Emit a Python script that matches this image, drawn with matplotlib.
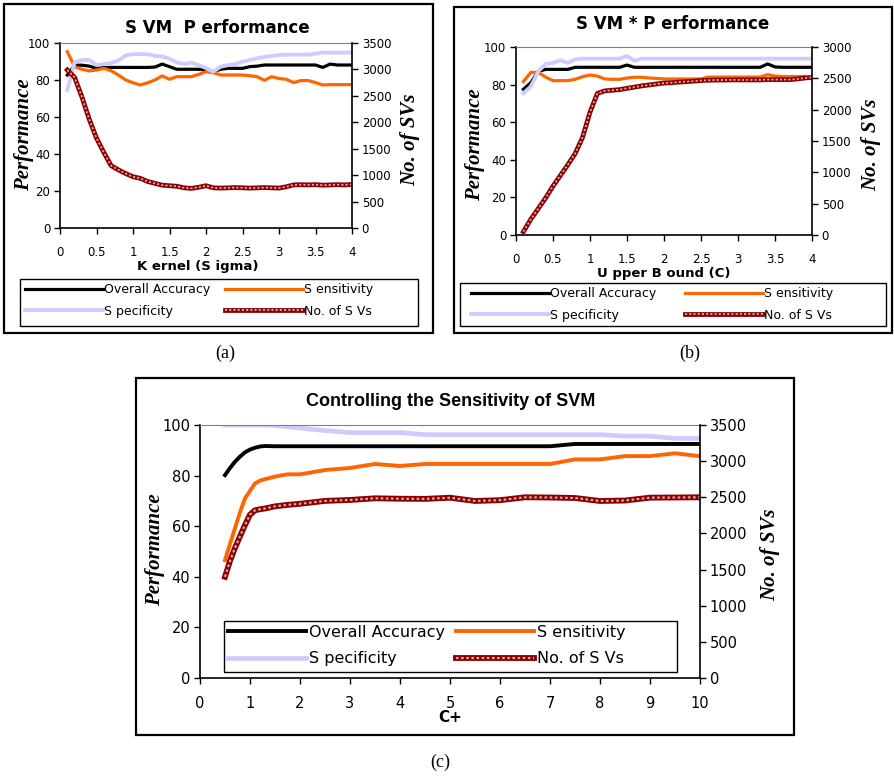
import matplotlib
matplotlib.use('Agg')
import matplotlib.pyplot as plt
from matplotlib.patches import Rectangle

# ---------------- DATOS ----------------

# (a) Kernel (Sigma)
sigma = [0.1, 0.2, 0.3, 0.4, 0.5, 0.6, 0.7, 0.8, 0.9, 1.0,
         1.1, 1.2, 1.3, 1.4, 1.5, 1.6, 1.7, 1.8, 1.9, 2.0,
         2.1, 2.2, 2.3, 2.4, 2.5, 2.6, 2.7, 2.8, 2.9, 3.0,
         3.1, 3.2, 3.3, 3.4, 3.5, 3.6, 3.7, 3.8, 3.9, 4.0]
acc_a = [82.7, 88.0, 88.0, 87.5, 86.3, 86.8, 86.8, 86.8, 86.8, 86.8,
         86.8, 86.8, 87.0, 88.6, 87.2, 85.8, 85.8, 85.8, 85.8, 85.5,
         84.5, 85.8, 86.3, 86.3, 86.3, 87.2, 87.5, 88.1, 88.1, 88.1,
         88.1, 88.1, 88.1, 88.1, 88.1, 86.8, 88.6, 88.1, 88.1, 88.1]
sens_a = [95.3, 87.2, 85.8, 84.9, 85.4, 86.3, 85.0, 82.7, 80.0, 78.5,
          77.3, 78.5, 80.0, 82.2, 80.4, 81.8, 81.8, 81.8, 83.0, 84.5,
          84.0, 82.7, 82.7, 82.7, 82.7, 82.3, 81.8, 79.8, 81.8, 80.8,
          80.4, 78.6, 79.7, 79.7, 78.6, 77.3, 77.5, 77.5, 77.5, 77.5]
spec_a = [74.6, 89.5, 90.8, 90.8, 88.1, 88.6, 89.2, 90.5, 93.3, 94.0,
          94.0, 94.0, 93.0, 92.7, 91.5, 89.5, 88.6, 89.4, 88.0, 86.5,
          84.5, 87.2, 88.0, 88.6, 89.9, 90.8, 91.7, 92.5, 93.0, 93.5,
          93.7, 93.7, 93.7, 93.7, 94.2, 94.8, 94.8, 94.8, 94.8, 94.8]
svs_a = [2990, 2850, 2480, 2060, 1700, 1430, 1180, 1100, 1030, 970,
         940, 880, 845, 810, 800, 790, 760, 750, 770, 800,
         760, 755, 760, 765, 760, 755, 760, 765, 760, 755,
         780, 815, 820, 815, 820, 810, 815, 820, 815, 825]

# (b) Upper Bound (C)
cota = [0.1, 0.2, 0.3, 0.4, 0.5, 0.6, 0.7, 0.8, 0.9, 1.0,
        1.1, 1.2, 1.3, 1.4, 1.5, 1.6, 1.7, 1.8, 1.9, 2.0,
        2.1, 2.2, 2.3, 2.4, 2.5, 2.6, 2.7, 2.8, 2.9, 3.0,
        3.1, 3.2, 3.3, 3.4, 3.5, 3.6, 3.7, 3.8, 3.9, 4.0]
acc_b = [77.5, 81.0, 87.0, 88.1, 88.1, 88.1, 88.1, 89.2, 89.2, 89.2,
         89.2, 89.2, 89.2, 89.2, 90.4, 89.2, 89.2, 89.2, 89.2, 89.2,
         89.2, 89.2, 89.2, 89.2, 89.2, 89.2, 89.2, 89.2, 89.2, 89.2,
         89.2, 89.2, 89.2, 91.0, 89.4, 89.2, 89.2, 89.2, 89.2, 89.2]
sens_b = [81.6, 86.5, 86.5, 84.0, 82.1, 82.1, 82.1, 82.8, 84.2, 85.1,
          84.5, 83.0, 82.8, 82.8, 83.5, 83.9, 83.9, 83.5, 83.3, 83.0,
          83.0, 83.0, 83.0, 83.0, 83.0, 84.0, 84.0, 84.0, 84.0, 84.0,
          84.0, 84.0, 84.0, 85.3, 84.5, 84.3, 84.3, 84.3, 84.3, 83.0]
spec_b = [75.4, 79.0, 87.0, 91.0, 91.5, 93.0, 91.5, 93.4, 93.8, 93.8,
          93.8, 93.8, 93.8, 93.8, 95.2, 92.7, 93.8, 93.8, 93.8, 93.8,
          93.8, 93.8, 93.8, 93.8, 93.8, 93.8, 93.8, 93.8, 93.8, 93.8,
          93.8, 93.8, 93.8, 93.8, 93.8, 93.8, 93.8, 93.8, 93.8, 93.8]
svs_b = [53, 250, 420, 590, 780, 950, 1120, 1300, 1560, 1960,
         2260, 2300, 2310, 2320, 2340, 2360, 2380, 2395, 2410, 2425,
         2430, 2440, 2447, 2455, 2465, 2470, 2473, 2473, 2475, 2475,
         2475, 2475, 2475, 2480, 2480, 2480, 2480, 2490, 2505, 2515]

# (c) C+
cmas = [0.5, 0.6, 0.7, 0.8, 0.9, 1.0, 1.1, 1.2, 1.3, 1.5, 1.75, 2.0,
        2.5, 3.0, 3.5, 4.0, 4.5, 5.0, 5.5, 6.0, 6.5, 7.0, 7.5, 8.0,
        8.5, 9.0, 9.5, 10.0]
acc_c = [80.2, 83.0, 85.5, 87.5, 89.2, 90.3, 91.0, 91.5, 91.7, 91.6, 91.6, 91.6,
         91.6, 91.6, 91.6, 91.6, 91.6, 91.6, 91.6, 91.6, 91.6, 91.6, 92.5, 92.5,
         92.5, 92.5, 92.5, 92.5]
sens_c = [46.6, 53.0, 59.2, 65.5, 71.0, 74.0, 76.9, 78.0, 78.6, 79.6, 80.5, 80.5,
          82.2, 83.0, 84.6, 83.8, 84.6, 84.6, 84.6, 84.6, 84.6, 84.6, 86.4, 86.4,
          87.7, 87.7, 88.8, 87.7]
spec_c = [100, 100, 100, 100, 100, 100, 100, 100, 100, 99.8, 99.3, 98.8,
          97.8, 97.0, 97.0, 97.0, 96.2, 96.2, 96.2, 96.2, 96.2, 96.2, 96.2, 96.2,
          95.6, 95.6, 94.7, 94.7]
svs_c = [1400, 1620, 1800, 1960, 2117, 2260, 2320, 2335, 2345, 2375, 2395, 2410,
         2450, 2463, 2486, 2480, 2478, 2494, 2449, 2460, 2500, 2497, 2490, 2449,
         2455, 2495, 2497, 2500]

# ---------------- FIGURA ----------------

W, H = 894, 777
fig = plt.figure(figsize=(W / 100, H / 100), dpi=100)

NARANJA = '#FF6600'
LILA = '#CCCCFF'
GRANATE = '#8B0000'
SERIF = 'Liberation Serif'


def fx(x):
    return x / W


def fy(y):
    return 1 - y / H


def ejes(left, top, right, bottom):
    return fig.add_axes([fx(left), fy(bottom), (right - left) / W, (bottom - top) / H])


def caja(left, top, right, bottom, lw):
    fig.patches.append(Rectangle((fx(left), fy(bottom)), (right - left) / W,
                                 (bottom - top) / H, fill=False, lw=lw,
                                 edgecolor='black', transform=fig.transFigure))


def panel(ax, x, acc, sens, spec, svs, xmax, xticks, xlabels, svmax, fs, lw):
    l_acc, = ax.plot(x, acc, color='black', lw=lw)
    l_sens, = ax.plot(x, sens, color=NARANJA, lw=lw)
    l_spec, = ax.plot(x, spec, color=LILA, lw=lw * 1.2)
    ax.set_xlim(0, xmax)
    ax.set_ylim(0, 100)
    ax.set_xticks(xticks)
    ax.set_xticklabels(xlabels)
    ax.set_yticks([0, 20, 40, 60, 80, 100])
    ax.tick_params(axis='x', labelsize=fs, length=4, width=1, pad=9)
    ax.tick_params(axis='y', labelsize=fs, length=4, width=1, pad=3)
    ax.spines['top'].set_color('#808080')
    ax.spines['right'].set_visible(False)
    for s in ['left', 'bottom']:
        ax.spines[s].set_linewidth(1.2)

    # No. of SVs en el eje secundario (cinta granate con puntos claros)
    ax2 = ax.twinx()
    base, = ax2.plot(x, svs, color=GRANATE, lw=lw * 1.5)
    punt, = ax2.plot(x, svs, color='#E2AAAA', lw=lw * 0.55, dashes=(1.2, 1.2))
    ax2.set_ylim(0, svmax)
    ax2.set_yticks(list(range(0, svmax + 1, 500)))
    ax2.tick_params(axis='y', labelsize=fs, length=4, width=1, pad=3)
    for s in ['top', 'left', 'bottom']:
        ax2.spines[s].set_visible(False)
    ax2.spines['right'].set_linewidth(1.2)
    return l_acc, l_sens, l_spec, (base, punt)


def leyenda(handles, labels, x1, x2, ytop, fs, hlen):
    # dos columnas colocadas a mano
    for hs, ls, x0 in [(handles[:2], labels[:2], x1), (handles[2:], labels[2:], x2)]:
        fig.legend(hs, ls, loc='upper left', bbox_to_anchor=(fx(x0), fy(ytop)),
                   frameon=False, fontsize=fs, handlelength=hlen, handletextpad=0.15,
                   borderpad=0, borderaxespad=0, labelspacing=0.7)


def etiquetas_y(xl, yl, xr, yr, fs):
    fig.text(fx(xl), fy(yl), 'Performance', rotation=90, ha='center', va='center',
             family=SERIF, style='italic', weight='bold', fontsize=fs)
    fig.text(fx(xr), fy(yr), 'No. of SVs', rotation=90, ha='center', va='center',
             family=SERIF, style='italic', weight='bold', fontsize=fs)


ticks4 = [0, 0.5, 1, 1.5, 2, 2.5, 3, 3.5, 4]
labels4 = ['0', '0.5', '1', '1.5', '2', '2.5', '3', '3.5', '4']
nombres = ['Overall Accuracy', 'S pecificity', 'S ensitivity', 'No. of S Vs']

# ---- (a) ----
caja(4, 4, 433, 333, 1.6)
ax_a = ejes(60, 43, 352, 228)
h = panel(ax_a, sigma, acc_a, sens_a, spec_a, svs_a, 4, ticks4, labels4, 3500, 8.5, 2.3)
fig.text(fx(217), fy(28), 'S VM  P erformance', ha='center', va='center',
         fontsize=12, weight='bold')
fig.text(fx(198), fy(266), 'K ernel (S igma)', ha='center', va='center',
         fontsize=9.5, weight='bold')
etiquetas_y(24, 135, 410, 140, 15)
caja(20, 279, 418, 326, 1.0)
leyenda([h[0], h[2], h[1], h[3]], nombres, 25, 225, 283, 9, 6.2)
fig.text(fx(225), fy(353), '(a)', ha='center', va='center', family=SERIF, fontsize=13)

# ---- (b) ----
caja(454, 7, 892, 333, 1.6)
ax_b = ejes(516, 47, 812, 235)
h = panel(ax_b, cota, acc_b, sens_b, spec_b, svs_b, 4, ticks4, labels4, 3000, 8.5, 2.3)
fig.text(fx(673), fy(24), 'S VM * P erformance', ha='center', va='center',
         fontsize=12, weight='bold')
fig.text(fx(664), fy(273), 'U pper B ound (C)', ha='center', va='center',
         fontsize=9.5, weight='bold')
etiquetas_y(475, 145, 871, 145, 15)
caja(460, 283, 886, 326, 1.0)
leyenda([h[0], h[2], h[1], h[3]], nombres, 471, 685, 287, 9, 6.2)
fig.text(fx(690), fy(353), '(b)', ha='center', va='center', family=SERIF, fontsize=13)

# ---- (c) ----
caja(136, 378, 794, 735, 1.6)
ax_c = ejes(200, 425, 700, 678)
ticks10 = list(range(0, 11))
h = panel(ax_c, cmas, acc_c, sens_c, spec_c, svs_c, 10, ticks10,
          [str(t) for t in ticks10], 3500, 10.5, 2.8)
fig.text(fx(451), fy(401), 'Controlling the Sensitivity of SVM', ha='center', va='center',
         fontsize=13, weight='bold', family='Liberation Sans')
fig.text(fx(450), fy(718), 'C+', ha='center', va='center', fontsize=11, weight='bold')
etiquetas_y(155, 550, 770, 555, 15)
ax_c.add_patch(Rectangle((fx(224), fy(672)), (677 - 224) / W, (672 - 621) / H,
                         facecolor='white', edgecolor='black', lw=1.0,
                         transform=fig.transFigure, zorder=5))
leyenda([h[0], h[2], h[1], h[3]], nombres, 228, 456, 625, 11.5, 4.9)
fig.text(fx(440), fy(762), '(c)', ha='center', va='center', family=SERIF, fontsize=13)

fig.savefig('out.png', dpi=100)
